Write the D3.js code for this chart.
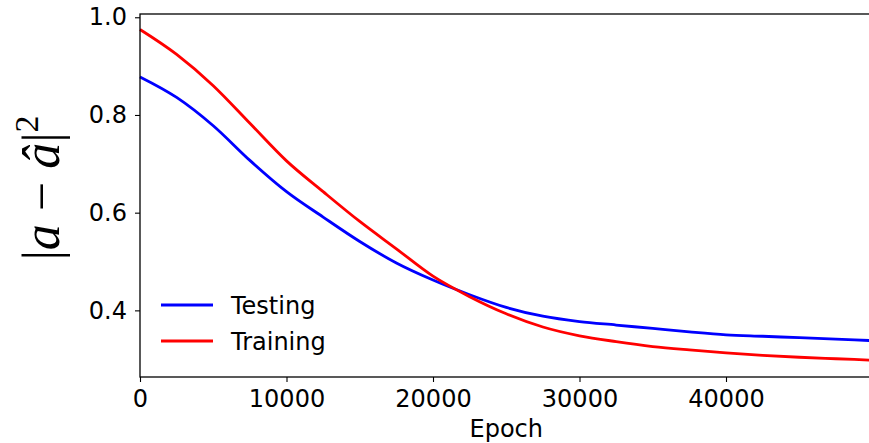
<!DOCTYPE html>
<html>
<head>
<meta charset="utf-8">
<script src="https://cdn.jsdelivr.net/npm/d3@7"></script>
<style>
  body { margin: 0; background: #fff; }
  svg { display: block; }
  .tick text { font-family: "DejaVu Sans", sans-serif; font-size: 24px; fill: #000; }
</style>
</head>
<body>
<div id="chart"></div>
<script>
// epochs and loss values
const epochs = [0, 2500, 5000, 7500, 10000, 12500, 15000, 17500, 20000, 22500, 25000,
                27500, 30000, 32500, 35000, 37500, 40000, 42500, 45000, 47500, 49999];
const testing = [0.878, 0.836, 0.778, 0.707, 0.643, 0.591, 0.541, 0.497, 0.462, 0.432, 0.406,
                 0.388, 0.377, 0.370, 0.363, 0.356, 0.350, 0.347, 0.344, 0.341, 0.338];
const training = [0.975, 0.924, 0.860, 0.783, 0.706, 0.643, 0.582, 0.526, 0.470, 0.428, 0.393,
                  0.366, 0.348, 0.336, 0.326, 0.319, 0.313, 0.308, 0.304, 0.301, 0.298];
const xTicks = [0, 10000, 20000, 30000, 40000];
const yTicks = [0.4, 0.6, 0.8, 1.0];
const seriesNames = ["Testing", "Training"];
const seriesColors = ["#0000ff", "#ff0000"];

const width = 869, height = 443;
const plotLeft = 140, plotTop = 14, plotBottom = 377;

const x = d3.scaleLinear().domain([0, 50000]).range([plotLeft, 872.5]);
const y = d3.scaleLinear().domain([0.2636, 1.0067]).range([plotBottom, plotTop]);

const svg = d3.select("#chart").append("svg")
  .attr("width", width)
  .attr("height", height);

/* ------------------ lines ------------------ */
const line = d3.line()
  .x(d => x(d[0]))
  .y(d => y(d[1]))
  .curve(d3.curveMonotoneX);

[testing, training].forEach((vals, i) => {
  svg.append("path")
    .datum(epochs.map((e, j) => [e, vals[j]]))
    .attr("fill", "none")
    .attr("stroke", seriesColors[i])
    .attr("stroke-width", 2.8)
    .attr("d", line);
});

/* ------------------ axes ------------------ */
const xAxis = svg.append("g")
  .attr("transform", `translate(0,${plotBottom})`)
  .call(d3.axisBottom(x).tickValues(xTicks).tickFormat(d3.format("d")).tickSize(5).tickPadding(8));
const yAxis = svg.append("g")
  .attr("transform", `translate(${plotLeft},0)`)
  .call(d3.axisLeft(y).tickValues(yTicks).tickFormat(d3.format(".1f")).tickSize(5).tickPadding(8));

[xAxis, yAxis].forEach(g => {
  g.select(".domain").remove();
  g.selectAll(".tick line").attr("stroke", "#000").attr("stroke-width", 1.1);
});

// frame
svg.append("rect")
  .attr("x", plotLeft)
  .attr("y", plotTop)
  .attr("width", x(50000) - plotLeft)
  .attr("height", plotBottom - plotTop)
  .attr("fill", "none")
  .attr("stroke", "#000")
  .attr("stroke-width", 1.3);

/* ------------------ labels ------------------ */
svg.append("text")
  .attr("x", (plotLeft + x(50000)) / 2)
  .attr("y", 437)
  .attr("text-anchor", "middle")
  .style("font-family", "DejaVu Sans, sans-serif")
  .style("font-size", "24px")
  .text("Epoch");

const ylab = svg.append("text")
  .attr("transform", "translate(59,188) rotate(-90)")
  .attr("text-anchor", "middle")
  .style("font-family", "Liberation Serif, serif")
  .style("font-size", "52px");
ylab.append("tspan").text("|");
ylab.append("tspan").style("font-style", "italic").text("a");
ylab.append("tspan").text(" \u2212 ");
ylab.append("tspan").style("font-style", "italic").text("\u00e2");
ylab.append("tspan").text("|");
ylab.append("tspan").attr("dy", -21).style("font-size", "34px").text("2");

/* ------------------ legend ------------------ */
const legend = svg.append("g");
seriesNames.forEach((name, i) => {
  const ly = 305 + i * 36;
  legend.append("line")
    .attr("x1", 161).attr("x2", 213)
    .attr("y1", ly).attr("y2", ly)
    .attr("stroke", seriesColors[i])
    .attr("stroke-width", 2.8);
  legend.append("text")
    .attr("x", 231)
    .attr("y", ly + 8.5)
    .style("font-family", "DejaVu Sans, sans-serif")
    .style("font-size", "24px")
    .text(name);
});
</script>
</body>
</html>
